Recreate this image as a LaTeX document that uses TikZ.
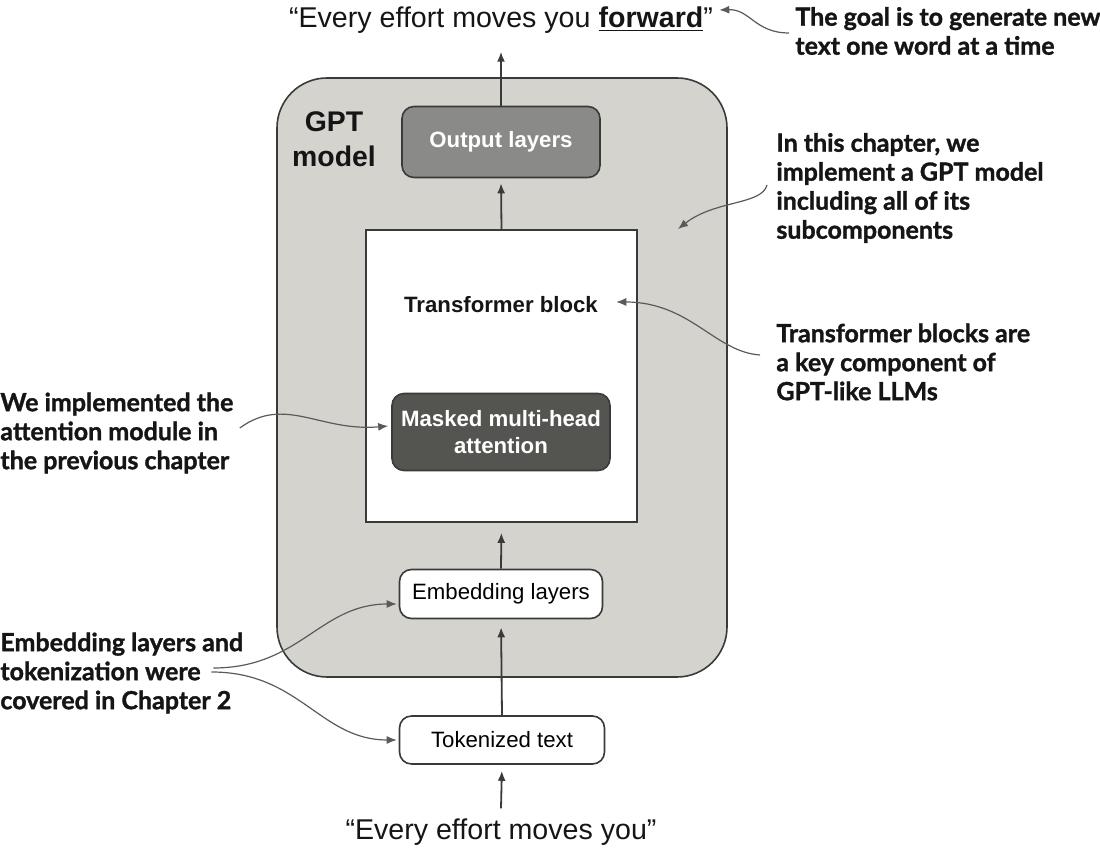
\documentclass[tikz,border=0pt]{standalone}
\usepackage{fontspec}
\setmainfont{Liberation Sans}
\newfontfamily\notefont{Lato}[BoldFeatures={FakeBold=1.3}]
\usetikzlibrary{arrows.meta,calc}
\definecolor{modelgray}{HTML}{D4D3CE}
\definecolor{edgegray}{HTML}{3A3A3A}
\definecolor{outgray}{HTML}{8A8A88}
\definecolor{attgray}{HTML}{545451}
\definecolor{curvegray}{HTML}{5A5A5A}
\definecolor{inkblack}{HTML}{151515}
\begin{document}
\begin{tikzpicture}[x=0.5pt,y=-0.5pt,
  flow/.style={draw=edgegray,line width=0.9pt,-{Latex[length=5pt,width=4pt]}},
  note/.style={draw=curvegray,line width=0.6pt,-{Latex[length=5pt,width=4pt]}},
  quote/.style={inner sep=0pt,text=inkblack,font=\fontsize{14.3}{17}\selectfont},
  remark/.style={inner sep=0pt,anchor=west,align=left,text=inkblack,
    font=\notefont\bfseries\fontsize{12.5}{14.5}\selectfont},
  layerbox/.style={draw=edgegray,line width=0.8pt,rounded corners=6pt,inner sep=0pt},
  lightbox/.style={layerbox,fill=white,font=\fontsize{11.1}{12}\selectfont},
  darkbox/.style={layerbox,text=white,align=center,font=\bfseries\fontsize{11.1}{13.5}\selectfont}]
\useasboundingbox (0,0) rectangle (1100,854);

% GPT model container
\node[draw=edgegray,line width=0.8pt,fill=modelgray,rounded corners=25pt,
      minimum width=225pt,minimum height=299.5pt] (model) at (502,377.5) {};
\node[inner sep=0pt,align=center,text=inkblack,
      font=\bfseries\fontsize{14.2}{17.5}\selectfont] (gpt) at (334,139) {GPT\\model};

% layers
\node[darkbox,fill=outgray,minimum width=99pt,minimum height=35.5pt] (out) at (501,142) {Output layers};
\node[draw=edgegray,line width=0.8pt,fill=white,minimum width=135.5pt,minimum height=146pt] (block) at (501.5,376) {};
\node[inner sep=0pt,text=inkblack,font=\bfseries\fontsize{11.1}{12}\selectfont] (blocklabel) at (501,305) {Transformer block};
\node[darkbox,fill=attgray,minimum width=109pt,minimum height=38.5pt] (mha) at (501,432) {Masked multi-head\\attention};
\node[lightbox,minimum width=101.5pt,minimum height=24.5pt] (emb) at (501,594) {Embedding layers};
\node[lightbox,minimum width=102.5pt,minimum height=24pt] (tok) at (502,740) {Tokenized text};

% input and output text
\node[quote] (outtext) at (501,20) {“Every effort moves you \textbf{\underline{forward}}”};
\node[quote] (intext) at (501,832) {“Every effort moves you”};

% data flow
\draw[flow,shorten >=3pt] (intext.north) ++(0,-10) -- (tok.south);
\draw[flow,shorten >=4pt] (tok.north) -- (emb.south);
\draw[flow,shorten >=5pt] (emb.north) -- (block.south);
\draw[flow,shorten >=2.5pt] (block.north) -- (out.south);
\draw[flow] (out.north) -- ($(outtext.south)+(0,18)$);

% remarks
\node[remark] (goal) at (795,31) {The goal is to generate new\\text one word at a time};
\node[remark] (chapter) at (776,188) {In this chapter, we\\implement a GPT model\\including all of its\\subcomponents};
\node[remark] (tblocks) at (776,362) {Transformer blocks are\\a key component of\\GPT-like LLMs};
\node[remark] (attn) at (0,433) {We implemented the\\attention module in\\the previous chapter};
\node[remark] (embnote) at (0,673) {Embedding layers and\\tokenization were\\covered in Chapter 2};

\coordinate (modelspot) at (678,229);
\draw[note] ($(goal.west)+(-6,2)$) .. controls (755,33) and (750,9) .. ($(outtext.east)+(6,-10)$);
\draw[note] ($(chapter.west)+(-9,-3)$) .. controls (762,205) and (715,200) .. (modelspot);
\draw[note] ($(tblocks.west)+(-16,-7)$) .. controls (715,352) and (690,302) .. ($(blocklabel.east)+(18,-3)$);
\draw[note] ($(attn.east)+(6,-5)$) .. controls (285,395) and (320,432) .. ($(mha.west)+(-3,-6)$);
\draw[note] ($(embnote.east)+(-30,-5)$) .. controls (300,668) and (320,604) .. ($(emb.west)+(-2,10)$);
\draw[note] ($(embnote.east)+(-32,-1)$) .. controls (300,672) and (320,740) .. ($(tok.west)+(-2,0)$);
\end{tikzpicture}
\end{document}
